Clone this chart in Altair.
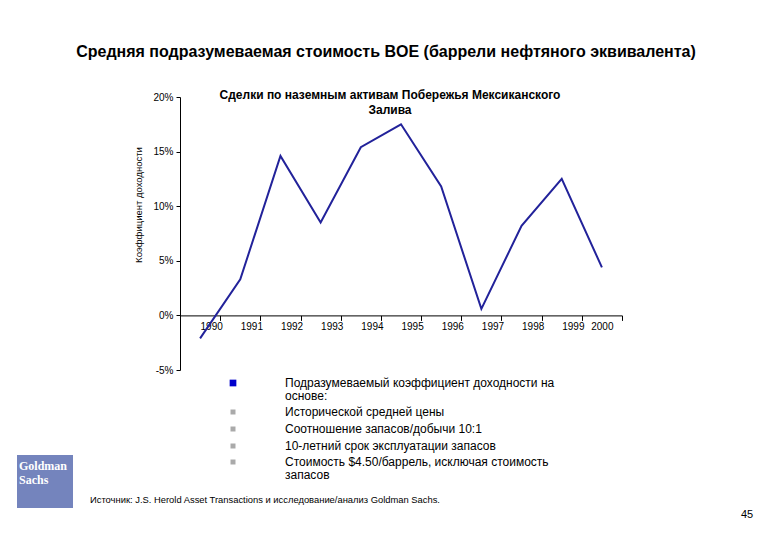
import altair as alt
import pandas as pd

years = [1990, 1991, 1992, 1993, 1994, 1995, 1996, 1997, 1998, 1999, 2000]
rates = [-2.1, 3.3, 14.6, 8.5, 15.4, 17.5, 11.8, 0.6, 8.2, 12.5, 4.4]
tick_positions = [y + 0.5 for y in years]
y_ticks = [-5, 0, 5, 10, 15, 20]

main_title = "Средняя подразумеваемая стоимость BOE (баррели нефтяного эквивалента)"
sub_title = ["Сделки по наземным активам Побережья Мексиканского", "Залива"]
y_title = "Коэффициент доходности"
bullet_lines = [
    ("Подразумеваемый коэффициент доходности на", "основе:"),
    ("Исторической средней цены", ""),
    ("Соотношение запасов/добычи 10:1", ""),
    ("10-летний срок эксплуатации запасов", ""),
    ("Стоимость $4.50/баррель, исключая стоимость", "запасов"),
]
source_text = "Источник: J.S. Herold Asset Transactions и исследование/анализ Goldman Sachs."
page_number = "45"
logo_lines = ["Goldman", "Sachs"]

W, H = 442, 273
FONT = "Liberation Sans"

df = pd.DataFrame({"year": years, "rate": rates})

line = alt.Chart(df).mark_line(color="#22229a", strokeWidth=2).encode(
    x=alt.X(
        "year:Q",
        scale=alt.Scale(domain=[1989.5, 2000.5], nice=False, zero=False),
        axis=alt.Axis(
            values=tick_positions,
            labelExpr="floor(datum.value)",
            title=None,
            grid=False,
            domainColor="black",
            tickColor="black",
            tickSize=5,
            labelOffset=-9,
            labelPadding=1,
            labelFontSize=10,
            labelColor="black",
            labelFont=FONT,
            offset=-(5 / 25) * H,
        ),
    ),
    y=alt.Y(
        "rate:Q",
        scale=alt.Scale(domain=[-5, 20], nice=False),
        axis=alt.Axis(
            values=y_ticks,
            labelExpr="datum.value + '%'",
            title=None,
            grid=False,
            domainColor="black",
            tickColor="black",
            tickSize=4,
            labelPadding=3,
            labelFontSize=10,
            labelColor="black",
            labelFont=FONT,
        ),
    ),
)

one = pd.DataFrame({"t": [0]})

def txt(text, x, y, size=11, bold=False, align="left", angle=None, color="black", font=FONT):
    kw = dict(align=align, baseline="middle", fontSize=size, font=font, color=color,
              fontWeight="bold" if bold else "normal")
    if angle is not None:
        kw["angle"] = angle
    return alt.Chart(one).mark_text(**kw).encode(
        x=alt.value(x), y=alt.value(y), text=alt.value(text)
    )

layers = [line]
layers.append(txt(main_title, 206, -45, size=16, bold=True, align="center"))
layers.append(txt(sub_title[0], 210, -2, size=12, bold=True, align="center"))
layers.append(txt(sub_title[1], 210, 13, size=12, bold=True, align="center"))
layers.append(txt(y_title, -41, 108, size=9.5, align="center", angle=270))

# bullet list
bullet_y = [286, 315, 332, 349, 365]
for i, (l1, l2) in enumerate(bullet_lines):
    by = bullet_y[i]
    if i == 0:
        sq = alt.Chart(one).mark_square(color="#0000cc", size=45, opacity=1).encode(
            x=alt.value(53), y=alt.value(by))
    else:
        sq = alt.Chart(one).mark_square(color="#aaaaaa", size=25, opacity=1).encode(
            x=alt.value(53), y=alt.value(by))
    layers.append(sq)
    layers.append(txt(l1, 105, by, size=12))
    if l2:
        layers.append(txt(l2, 105, by + 13, size=12))

layers.append(txt(source_text, -90, 403, size=9.4))
layers.append(txt(page_number, 561, 418, size=11))

# logo
logo = alt.Chart(one).mark_rect(color="#7484bd").encode(
    x=alt.value(-163), x2=alt.value(-107), y=alt.value(358), y2=alt.value(411))
layers.append(logo)
layers.append(txt(logo_lines[0], -161, 369, size=12, bold=True, color="white", font="Liberation Serif"))
layers.append(txt(logo_lines[1], -161, 383, size=12, bold=True, color="white", font="Liberation Serif"))

chart = alt.layer(*layers).properties(
    width=W,
    height=H,
    autosize=alt.AutoSizeParams(type="none"),
    padding={"left": 172, "top": 89, "right": 140, "bottom": 155},
    background="white",
).configure_view(stroke=None)

chart.save("out.html", embed_options={"renderer": "svg", "actions": False})
